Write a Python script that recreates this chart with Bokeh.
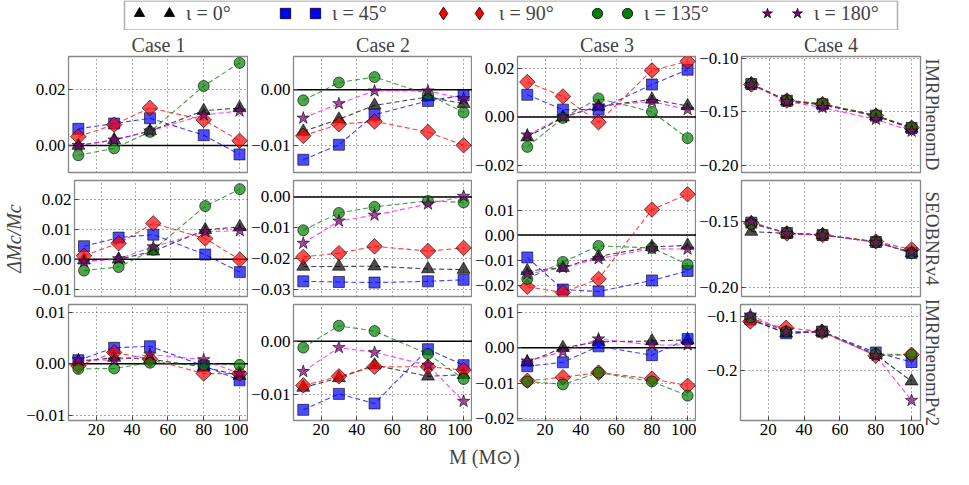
import math
from bokeh.plotting import figure
from bokeh.models import (Range1d, FixedTicker, CustomJSTickFormatter, Span, Title,
                          Legend, LegendItem, BoxAnnotation, Label)
from bokeh.layouts import column, row
from bokeh.embed import file_html
from bokeh.resources import INLINE

# ---------------- data ----------------
MASS = [10, 30, 50, 80, 100]
INCL_LABELS = ["ι = 0°", "ι = 45°", "ι = 90°", "ι = 135°", "ι = 180°"]
CASES = ["Case 1", "Case 2", "Case 3", "Case 4"]
MODELS = ["IMRPhenomD", "SEOBNRv4", "IMRPhenomPv2"]

# rows: inclination 0, 45, 90, 135, 180 ; columns: MASS
PHD_CASE1 = [
    [0.0000, 0.0020, 0.0052, 0.0125, 0.0135],
    [0.0060, 0.0079, 0.0098, 0.0037, -0.0032],
    [0.0032, 0.0075, 0.0135, 0.0092, 0.0017],
    [-0.0035, -0.0010, 0.0049, 0.0214, 0.0297],
    [0.0000, 0.0020, 0.0052, 0.0110, 0.0124],
]
PHD_CASE2 = [
    [-0.0075, -0.0053, -0.0028, -0.0013, -0.0025],
    [-0.0126, -0.0099, -0.0045, -0.0020, -0.0010],
    [-0.0083, -0.0062, -0.0057, -0.0076, -0.0100],
    [-0.0019, 0.0013, 0.0023, -0.0008, -0.0041],
    [-0.0051, -0.0025, -0.0002, -0.0002, -0.0016],
]
PHD_CASE3 = [
    [-0.0083, -0.0001, 0.0043, 0.0072, 0.0045],
    [0.0091, 0.0030, 0.0030, 0.0133, 0.0194],
    [0.0143, 0.0084, -0.0022, 0.0191, 0.0228],
    [-0.0123, -0.0004, 0.0076, 0.0021, -0.0087],
    [-0.0074, -0.0001, 0.0045, 0.0063, 0.0030],
]
PHD_CASE4 = [
    [-0.1242, -0.1400, -0.1435, -0.1540, -0.1655],
    [-0.1242, -0.1397, -0.1430, -0.1536, -0.1650],
    [-0.1245, -0.1395, -0.1428, -0.1535, -0.1648],
    [-0.1240, -0.1392, -0.1425, -0.1532, -0.1646],
    [-0.1245, -0.1405, -0.1460, -0.1570, -0.1680],
]
EOB_CASE1 = [
    [-0.0003, 0.0000, 0.0027, 0.0099, 0.0109],
    [0.0044, 0.0073, 0.0083, 0.0016, -0.0043],
    [0.0012, 0.0054, 0.0121, 0.0070, -0.0001],
    [-0.0038, -0.0026, 0.0032, 0.0179, 0.0236],
    [-0.0008, 0.0002, 0.0042, 0.0093, 0.0096],
]
EOB_CASE2 = [
    [-0.0225, -0.0225, -0.0224, -0.0233, -0.0235],
    [-0.0273, -0.0275, -0.0277, -0.0273, -0.0268],
    [-0.0194, -0.0182, -0.0160, -0.0175, -0.0165],
    [-0.0108, -0.0052, -0.0032, -0.0013, -0.0018],
    [-0.0150, -0.0078, -0.0059, -0.0023, 0.0002],
]
EOB_CASE3 = [
    [-0.0143, -0.0130, -0.0085, -0.0047, -0.0041],
    [-0.0089, -0.0217, -0.0225, -0.0181, -0.0143],
    [-0.0206, -0.0229, -0.0175, 0.0102, 0.0163],
    [-0.0175, -0.0107, -0.0043, -0.0051, -0.0117],
    [-0.0155, -0.0130, -0.0094, -0.0054, -0.0056],
]
EOB_CASE4 = [
    [-0.1578, -0.1592, -0.1604, -0.1656, -0.1738],
    [-0.1511, -0.1589, -0.1604, -0.1656, -0.1738],
    [-0.1515, -0.1592, -0.1604, -0.1652, -0.1712],
    [-0.1520, -0.1589, -0.1602, -0.1656, -0.1740],
    [-0.1505, -0.1592, -0.1605, -0.1658, -0.1732],
]
PV2_CASE1 = [
    [0.0004, 0.0012, 0.0009, -0.0006, -0.0023],
    [0.0007, 0.0031, 0.0034, -0.0004, -0.0032],
    [-0.0004, 0.0022, 0.0009, -0.0019, -0.0019],
    [-0.0010, -0.0009, 0.0002, -0.0002, -0.0002],
    [0.0008, 0.0007, 0.0018, 0.0008, -0.0019],
]
PV2_CASE2 = [
    [-0.0087, -0.0069, -0.0045, -0.0066, -0.0063],
    [-0.0129, -0.0099, -0.0117, -0.0015, -0.0045],
    [-0.0083, -0.0066, -0.0048, -0.0048, -0.0054],
    [-0.0012, 0.0029, 0.0019, -0.0024, -0.0071],
    [-0.0057, -0.0012, -0.0021, -0.0045, -0.0113],
]
PV2_CASE3 = [
    [-0.0041, 0.0000, 0.0017, 0.0019, 0.0022],
    [-0.0052, -0.0041, 0.0004, -0.0021, 0.0025],
    [-0.0093, -0.0083, -0.0070, -0.0087, -0.0107],
    [-0.0095, -0.0103, -0.0070, -0.0095, -0.0135],
    [-0.0037, -0.0011, 0.0025, 0.0008, 0.0008],
]
PV2_CASE4 = [
    [-0.1047, -0.1312, -0.1282, -0.1706, -0.2194],
    [-0.1059, -0.1312, -0.1282, -0.1665, -0.1841],
    [-0.1094, -0.1212, -0.1282, -0.1724, -0.1706],
    [-0.1018, -0.1282, -0.1282, -0.1694, -0.1706],
    [-0.0976, -0.1282, -0.1290, -0.1724, -0.2547],
]

X_TICKS = [20, 40, 60, 80, 100]
Y_TICKS = [
    [[0.0, 0.02], [-0.01, 0.0], [-0.02, 0.0, 0.02], [-0.20, -0.15, -0.10]],
    [[-0.01, 0.0, 0.01, 0.02], [-0.03, -0.02, -0.01, 0.0], [-0.02, -0.01, 0.0, 0.01], [-0.20, -0.15]],
    [[-0.01, 0.0, 0.01], [-0.01, 0.0], [-0.02, -0.01, 0.0, 0.01], [-0.2, -0.1]],
]
Y_DECIMALS = [[2, 2, 2, 2], [2, 2, 2, 2], [2, 2, 2, 1]]

PANELS = [
    [PHD_CASE1, PHD_CASE2, PHD_CASE3, PHD_CASE4],
    [EOB_CASE1, EOB_CASE2, EOB_CASE3, EOB_CASE4],
    [PV2_CASE1, PV2_CASE2, PV2_CASE3, PV2_CASE4],
]

# ---------------- layout / style ----------------
Y_RANGES = [
    [(-0.0097, 0.032), (-0.0149, 0.006), (-0.0228, 0.0248), (-0.2065, -0.0985)],
    [(-0.0125, 0.0265), (-0.0322, 0.0053), (-0.0245, 0.0218), (-0.2065, -0.1195)],
    [(-0.011, 0.0115), (-0.0149, 0.0069), (-0.0205, 0.0122), (-0.2917, -0.0783)],
]
FONT = "Liberation Serif"
FW, FH = 180, 116
LEFT0, LEFTG, RIGHT4 = 68, 44, 33

MARKERS = ["triangle", "square", "square", "circle", "star"]
LEG_MARKERS = ["triangle", "square", "diamond", "circle", "star"]
ANGLES = [0.0, 0.0, math.pi / 4, 0.0, 0.0]
SIZES = [13, 11, 11, 11, 13]
FILLS = ["black", "blue", "red", "green", "purple"]
LINES = ["black", "blue", "red", "green", "magenta"]

x_range = Range1d(4.5, 105)

FMT_CODE = """
const v = Math.abs(tick) < 1e-12 ? 0 : tick;
const s = Math.abs(v).toFixed(d);
return (v < 0 ? '\u2212' : '') + s;
"""


def make_panel(r, c):
    left = LEFT0 if c == 0 else LEFTG
    right = RIGHT4 if c == 3 else 0
    top = 26 if r == 0 else 4
    bottom = 24 if r == 2 else 4
    p = figure(width=left + FW + right, height=top + FH + bottom,
               x_range=x_range, y_range=Range1d(*Y_RANGES[r][c]),
               output_backend="svg", toolbar_location=None, tools="",
               min_border_left=left, min_border_right=right,
               min_border_top=top, min_border_bottom=bottom,
               title=CASES[c] if r == 0 else None)
    p.background_fill_color = "white"
    p.border_fill_color = "white"
    p.outline_line_color = "#888888"
    p.outline_line_width = 1.3
    if r == 0:
        p.title.align = "center"
        p.title.text_font = FONT
        p.title.text_font_size = "20px"
        p.title.text_font_style = "normal"
        p.title.standoff = 2
    # axes
    p.xaxis.ticker = FixedTicker(ticks=X_TICKS)
    p.yaxis.ticker = FixedTicker(ticks=Y_TICKS[r][c])
    p.yaxis.formatter = CustomJSTickFormatter(code=FMT_CODE, args={"d": Y_DECIMALS[r][c]})
    for ax in (p.xaxis[0], p.yaxis[0]):
        ax.axis_line_color = None
        ax.major_tick_in = 4
        ax.major_tick_out = 0
        ax.major_tick_line_color = "#444444"
        ax.minor_tick_line_color = None
        ax.major_label_text_font = FONT
        ax.major_label_text_font_size = "17px"
        ax.major_label_text_color = "black"
        ax.major_label_standoff = 3
    if r != 2:
        p.xaxis.visible = False
    if r == 1 and c == 0:
        p.yaxis.axis_label = "ΔMc/Mc"
        p.yaxis.axis_label_text_font = FONT
        p.yaxis.axis_label_text_font_size = "20px"
        p.yaxis.axis_label_text_font_style = "italic"
        p.yaxis.axis_label_standoff = 4
    for g in (p.xgrid[0], p.ygrid[0]):
        g.grid_line_color = "#444444"
        g.grid_line_dash = "1 3"
        g.grid_line_width = 1
        g.grid_line_alpha = 0.9
    if c == 3:
        p.add_layout(Title(text=MODELS[r], align="center", text_font=FONT,
                           text_font_size="19px", text_font_style="normal",
                           standoff=3), "right")
    if c != 3:
        p.add_layout(Span(location=0, dimension="width", line_color="black",
                          line_width=1.5, level="underlay"))
    vals = PANELS[r][c]
    for k in range(5):
        p.line(MASS, vals[k], line_color=LINES[k], line_dash="5 3",
               line_width=1.1, line_alpha=0.75)
    for k in range(5):
        p.scatter(MASS, vals[k], marker=MARKERS[k], size=SIZES[k], angle=ANGLES[k],
                  fill_color=FILLS[k], fill_alpha=0.7,
                  line_color="black", line_alpha=0.6, line_width=1)
    return p


grid_rows = [row(*[make_panel(r, c) for c in range(4)]) for r in range(3)]

TOTAL_W = LEFT0 + LEFTG * 3 + FW * 4 + RIGHT4

# legend strip (legend glyphs come from hidden copies of the Case 1 series)
lp = figure(width=TOTAL_W, height=30, x_range=Range1d(0, TOTAL_W), y_range=Range1d(0, 30),
            output_backend="svg", toolbar_location=None, tools="", min_border=0)
lp.axis.visible = False
lp.grid.visible = False
lp.outline_line_color = None
lp.add_layout(BoxAnnotation(left=124, right=897, bottom=0.5, top=29.5,
                            fill_alpha=0, line_color="black", line_width=1.6))
LEG_X = [126, 272, 427, 584, 754]
LEG_GLYPH = [26, 26, 32, 26, 26]
for k in range(5):
    rr = lp.scatter(x=MASS, y=PHD_CASE1[k], marker=LEG_MARKERS[k], fill_color=FILLS[k],
                    line_color="black", line_width=0.8)
    rr.visible = False
    gsz = LEG_GLYPH[k]
    leg = Legend(items=[LegendItem(label="", renderers=[rr]),
                        LegendItem(label=INCL_LABELS[k], renderers=[rr])],
                 orientation="horizontal", location=(LEG_X[k], (30 - gsz) // 2 + 2),
                 glyph_width=gsz, glyph_height=gsz, label_standoff=4, label_width=0,
                 spacing=0, padding=0, margin=0, border_line_color=None,
                 background_fill_alpha=0, label_text_font=FONT,
                 label_text_font_size="20px", click_policy="none")
    lp.add_layout(leg)

# x-axis label strip
xp = figure(width=TOTAL_W, height=24, x_range=Range1d(0, TOTAL_W), y_range=Range1d(0, 24),
            output_backend="svg", toolbar_location=None, tools="", min_border=0)
xp.axis.visible = False
xp.grid.visible = False
xp.outline_line_color = None
xp.add_layout(Label(x=484, y=12, text="M (M⊙)", text_align="center", text_baseline="middle",
                    text_font=FONT, text_font_size="20px"))

layout = column(lp, *grid_rows, xp)

with open("out.html", "w") as f:
    f.write(file_html(layout, INLINE))
